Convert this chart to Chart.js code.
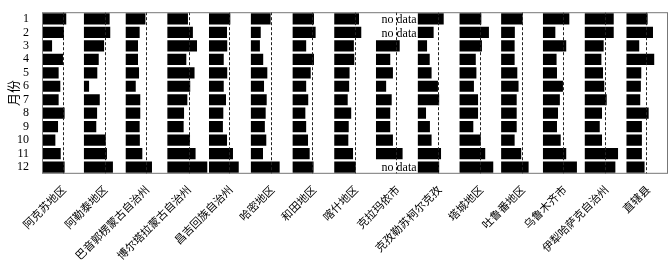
<!DOCTYPE html>
<html>
<head>
<meta charset="utf-8">
<script src="https://cdn.jsdelivr.net/npm/chart.js@4.4.1/dist/chart.umd.min.js"></script>
<style>
  body { margin: 0; background: #fff; }
  #wrap { width: 672px; height: 268px; }
</style>
</head>
<body>
<div id="wrap"><canvas id="barchart"></canvas></div>
<script>
// monthly values per region, as ratio to the annual level (dashed line)
const months = ['1', '2', '3', '4', '5', '6', '7', '8', '9', '10', '11', '12'];
const regions = ['阿克苏地区', '阿勒泰地区', '巴音郭楞蒙古自治州', '博尔塔拉蒙古自治州', '昌吉回族自治州',
    '哈密地区', '和田地区', '喀什地区', '克拉玛依市', '克孜勒苏柯尔克孜', '塔城地区', '吐鲁番地区',
    '乌鲁木齐市', '伊犁哈萨克自治州', '直辖县'];

const akesu     = [1.18, 1.07, 0.49, 1.02, 0.81, 0.89, 0.81, 1.10, 0.78, 0.65, 0.91, 1.10];
const aletai    = [1.26, 1.29, 0.99, 0.73, 0.66, 0.26, 0.78, 0.65, 0.61, 1.07, 1.13, 1.42];
const bayin     = [0.97, 0.69, 0.61, 0.61, 0.66, 0.50, 0.72, 0.72, 0.69, 0.70, 0.82, 1.29];
const boertala  = [1.01, 1.25, 1.45, 0.93, 1.33, 1.12, 0.98, 0.82, 0.80, 1.11, 1.38, 1.95];
const changji   = [1.04, 0.88, 0.89, 0.72, 0.89, 0.72, 0.83, 0.70, 0.68, 0.88, 1.17, 1.45];
const hami      = [0.97, 0.49, 0.45, 0.61, 0.81, 0.65, 0.78, 0.73, 0.69, 0.76, 0.60, 1.41];
const hetian    = [1.05, 1.13, 0.67, 1.05, 0.89, 0.67, 0.77, 0.63, 0.67, 0.76, 0.84, 1.03];
const kashi     = [1.21, 1.32, 0.96, 0.98, 0.75, 0.73, 0.66, 0.83, 0.71, 0.69, 0.92, 1.05];
const kelamayi  = [null, null, 1.16, 0.70, 0.83, 0.50, 0.77, 0.70, 0.70, 0.83, 1.30, null];
const kezile    = [1.27, 0.78, 0.46, 0.59, 0.68, 0.99, 1.05, 0.41, 0.60, 0.68, 1.14, 1.05];
const tacheng   = [1.07, 1.44, 1.10, 0.80, 0.83, 0.71, 0.91, 0.91, 0.68, 1.04, 1.26, 1.65];
const tulufan   = [1.05, 0.67, 0.66, 0.66, 0.79, 0.85, 0.76, 0.76, 0.76, 0.66, 0.98, 1.34];
const wulumuqi  = [1.29, 0.61, 1.14, 0.67, 0.69, 0.98, 0.83, 0.74, 0.69, 0.87, 1.14, 1.66];
const yili      = [1.42, 1.42, 0.93, 0.82, 0.90, 0.96, 1.08, 0.85, 0.74, 0.85, 1.63, 1.50];
const zhixiaxian = [1.04, 1.30, 0.63, 1.36, 0.73, 0.71, 0.68, 1.09, 0.76, 0.76, 0.76, 0.89];

const meanLine = [1.02, 1.02, 0.99, 1.04, 0.98, 1.00, 0.97, 1.02, 0.99, 1.00, 0.99, 1.00, 1.00, 1.01, 0.97];

const series = [akesu, aletai, bayin, boertala, changji, hami, hetian, kashi, kelamayi,
    kezile, tacheng, tulufan, wulumuqi, yili, zhixiaxian];

const serif = "'Liberation Serif', 'Noto Sans CJK SC'";

const panelMarks = {
    id: 'panelMarks',
    afterDatasetsDraw(chart) {
        const ctx = chart.ctx;
        const area = chart.chartArea;
        const yScale = chart.scales.y;
        ctx.save();
        regions.forEach(function(r, i) {
            const xScale = chart.scales['x' + i];
            const px = Math.round(xScale.getPixelForValue(meanLine[i])) + 0.5;
            ctx.strokeStyle = '#222';
            ctx.lineWidth = 1;
            ctx.setLineDash([3, 2]);
            ctx.beginPath();
            ctx.moveTo(px, area.top);
            ctx.lineTo(px, area.bottom);
            ctx.stroke();
            ctx.setLineDash([]);
            ctx.fillStyle = '#000';
            ctx.font = '12px ' + serif;
            ctx.textAlign = 'right';
            ctx.textBaseline = 'middle';
            series[i].forEach(function(v, j) {
                if (v === null) ctx.fillText('no data', xScale.right - 1, yScale.getPixelForValue(j) + 1);
            });
        });
        ctx.strokeStyle = '#777';
        ctx.lineWidth = 1;
        ctx.strokeRect(area.left + 0.5, area.top + 0.5, area.width - 1, area.height - 1);
        ctx.restore();
    }
};

const scales = {
    y: {
        type: 'category',
        offset: true,
        grid: {display: false},
        border: {display: false},
        ticks: {color: '#000', padding: 5, autoSkip: false, font: {family: serif, size: 12}},
        title: {display: true, text: '月份', color: '#000', padding: {top: 7, bottom: 4},
            font: {family: serif, size: 13}},
        afterFit: function(s) { s.width = 42; }
    }
};
const datasets = [];
regions.forEach(function(name, i) {
    scales['x' + i] = {
        axis: 'x',
        type: 'linear',
        position: 'bottom',
        stack: 'panels',
        stackWeight: 1,
        min: 0,
        max: 2.03,
        grid: {display: false},
        border: {display: false},
        ticks: {
            color: '#000',
            minRotation: 45,
            maxRotation: 45,
            padding: 2,
            font: {family: serif, size: 11},
            callback: function() { return name; }
        },
        afterBuildTicks: function(s) { s.ticks = [{value: 1.1}]; },
        afterFit: function(s) { s.paddingLeft = 0; s.paddingRight = 0; }
    };
    datasets.push({
        label: name,
        data: series[i],
        xAxisID: 'x' + i,
        yAxisID: 'y',
        backgroundColor: '#000',
        borderWidth: 0,
        grouped: false,
        categoryPercentage: 1,
        barPercentage: 0.83
    });
});

const config = {
    type: 'bar',
    data: {labels: months, datasets: datasets},
    options: {
        indexAxis: 'y',
        responsive: true,
        maintainAspectRatio: false,
        animation: false,
        layout: {padding: {top: 8, right: 4, left: 0, bottom: 7}},
        plugins: {legend: {display: false}, tooltip: {enabled: false}},
        scales: scales
    },
    plugins: [panelMarks]
};
const barchart = new Chart(document.getElementById('barchart'), config);
</script>
</body>
</html>
